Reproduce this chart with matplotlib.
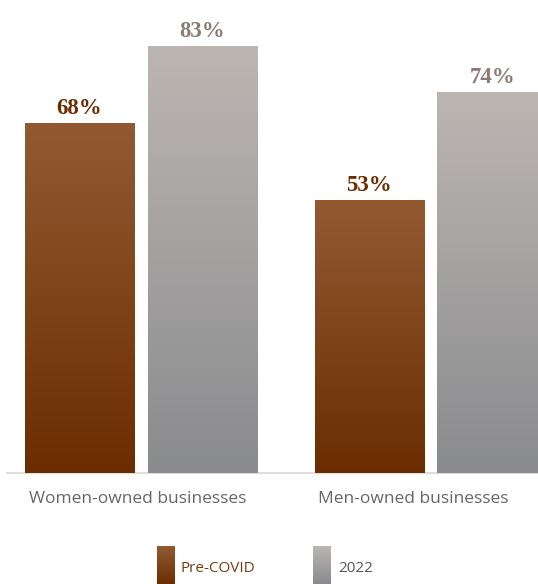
import numpy as np
import matplotlib
matplotlib.use("Agg")
import matplotlib.pyplot as plt
from matplotlib.colors import LinearSegmentedColormap

categories = ["Women-owned businesses", "Men-owned businesses"]
series_names = ["Pre-COVID", "2022"]
pre_covid = [68, 53]
y2022 = [83, 74]
value_labels_pre = ["68%", "53%"]
value_labels_2022 = ["83%", "74%"]

W, H = 538, 584
fig = plt.figure(figsize=(W / 100, H / 100), dpi=100)
ax = fig.add_axes([7 / W, 1 - 473 / H, (538 - 7) / W, 473 / H])

cmap_pre = LinearSegmentedColormap.from_list("pre", ["#6b2d00", "#935a32"])
cmap_22 = LinearSegmentedColormap.from_list("y22", ["#8a8b8e", "#bcb6b2"])
grad = np.linspace(0, 1, 256).reshape(-1, 1)

bar_w = 0.378
offset = 0.212
x = np.arange(len(categories))

def grad_bar(xc, h, cmap):
    ax.imshow(grad, cmap=cmap, origin="lower", aspect="auto",
              extent=[xc - bar_w / 2, xc + bar_w / 2, 0, h], zorder=2,
              interpolation="bicubic")

for i in range(len(categories)):
    grad_bar(x[i] - offset, pre_covid[i], cmap_pre)
    grad_bar(x[i] + offset, y2022[i], cmap_22)
    ax.text(x[i] - offset, pre_covid[i] + 0.9, value_labels_pre[i], ha="center", va="bottom",
            family="Liberation Serif", weight="bold", fontsize=16.5, color="#6b2d00")
    ax.text(x[i] + offset, y2022[i] + 0.9, value_labels_2022[i], ha="center", va="bottom",
            family="Liberation Serif", weight="bold", fontsize=16.5, color="#8c7b72")

ax.set_xlim(-0.462, 1.37)
ax.set_ylim(0, 92.0)
for s in ["top", "right", "left"]:
    ax.spines[s].set_visible(False)
ax.spines["bottom"].set_color("#e2ddd8")
ax.spines["bottom"].set_linewidth(1.5)
ax.spines["bottom"].set_zorder(1)
ax.set_yticks([])
ax.set_xticks([])

label_x = [-0.012, 0.94]
for i, c in enumerate(categories):
    ax.text(label_x[i], -5.0, c, ha="center", va="center", transform=ax.transData,
            family="Open Sans", fontsize=12.5, color="#666666", clip_on=False)

# Legend
def legend_patch(px0, cmap):
    lax = fig.add_axes([px0 / W, 0, 18 / W, 38 / H])
    lax.imshow(grad, cmap=cmap, origin="lower", aspect="auto", extent=[0, 1, 0, 1])
    lax.set_axis_off()

legend_patch(157, cmap_pre)
legend_patch(313, cmap_22)
fig.text(181 / W, 1 - 568 / H, series_names[0], ha="left", va="center",
         family="Open Sans", fontsize=11, color="#7a3a10")
fig.text(338 / W, 1 - 568 / H, series_names[1], ha="left", va="center",
         family="Open Sans", fontsize=11, color="#555555")

fig.savefig("out.png", dpi=100)
